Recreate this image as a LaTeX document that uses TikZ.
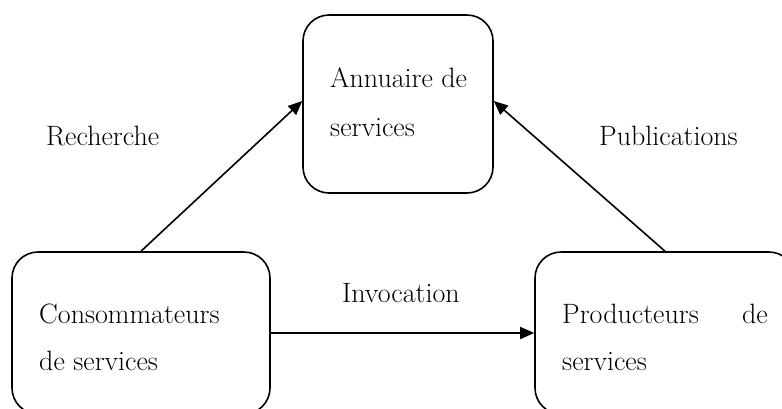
\documentclass[tikz,border=0pt]{standalone}
\usetikzlibrary{arrows.meta}
\begin{document}
\begin{tikzpicture}[x=1pt,y=-1pt,
  boxst/.style={draw,line width=1.6pt,rounded corners=26pt,inner sep=0pt},
  txt/.style={anchor=base west,inner sep=0pt,font=\fontsize{28}{32}\selectfont},
  arr/.style={line width=1.6pt,-{Triangle[length=14pt,width=12pt]}}]
\useasboundingbox (0,0) rectangle (782,408);
\clip (0,0) rectangle (782,408);
\node[boxst,minimum width=190pt,minimum height=178pt] (annu) at (398,104) {};
\node[boxst,minimum width=258pt,minimum height=162pt] (cons) at (141,333) {};
\node[boxst,minimum width=260pt,minimum height=162pt] (prod) at (665,333) {};
\node[txt] (t1) at (330,87) {Annuaire de};
\node[txt] (t2) at (330,136) {services};
\node[txt] (t3) at (39,323) {Consommateurs};
\node[txt] (t4) at (39,370) {de services};
\node[txt] (t5) at (562,323) {Producteurs};
\node[txt,anchor=base east] (t6) at (768,323) {de};
\node[txt] (t7) at (562,370) {services};
\node[txt] (l1) at (46,145) {Recherche};
\node[txt] (l2) at (599,145) {Publications};
\node[txt] (l3) at (342,302) {Invocation};
\draw[arr] (cons.north) -- ([yshift=3pt]annu.west);
\draw[arr] (prod.north) -- ([yshift=3pt]annu.east);
\draw[arr] (cons.east) -- (prod.west);
\end{tikzpicture}
\end{document}
